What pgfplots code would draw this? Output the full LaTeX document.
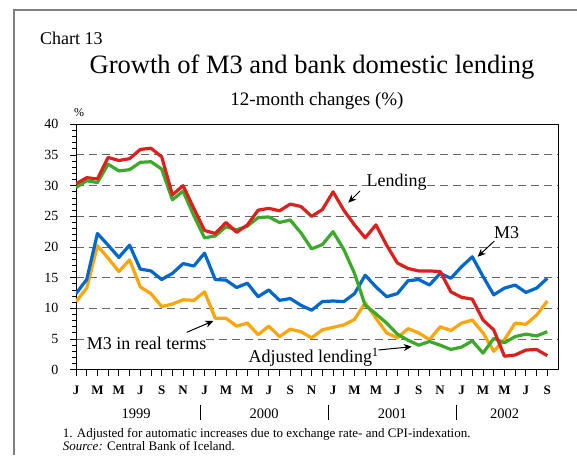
\documentclass[border=0pt]{standalone}
\usepackage{fontspec}
\setmainfont{Liberation Serif}
\usepackage{pgfplots}
\pgfplotsset{compat=1.18}
\usetikzlibrary{arrows.meta}

\definecolor{lendred}{RGB}{221,32,28}
\definecolor{adjgreen}{RGB}{58,170,40}
\definecolor{mblue}{RGB}{0,104,204}
\definecolor{realorange}{RGB}{255,165,10}

% month index 0 = Jan 1999 ... 44 = Sep 2002
\pgfplotstableread{
i  lend  adj   mthree real
0  30.3  29.7  12.4  11.1
1  31.3  30.8  14.7  13.3
2  31.1  30.5  22.2  20.2
3  34.6  33.5  20.3  18.2
4  34.1  32.4  18.3  16.0
5  34.4  32.6  20.3  17.9
6  35.9  33.8  16.4  13.5
7  36.1  33.9  16.1  12.4
8  34.7  32.7  14.7  10.3
9  28.5  27.7  15.7  10.7
10 30.0  29.1  17.3  11.4
11 26.3  25.1  16.9  11.3
12 22.7  21.5  19.0  12.7
13 22.2  21.8  14.7  8.4
14 24.0  23.3  14.6  8.4
15 22.4  22.8  13.4  7.1
16 23.6  23.4  14.1  7.6
17 26.0  24.8  11.9  5.7
18 26.3  24.9  13.0  7.1
19 25.9  24.0  11.3  5.4
20 27.0  24.4  11.6  6.6
21 26.6  22.3  10.5  6.2
22 25.0  19.7  9.7   5.2
23 26.1  20.4  11.1  6.5
24 29.0  22.5  11.2  6.9
25 26.0  19.6  11.1  7.3
26 23.6  15.7  12.4  8.2
27 21.5  10.5  15.4  10.9
28 23.6  9.1   13.5  8.4
29 20.3  7.6   11.9  6.0
30 17.4  5.8   12.4  5.2
31 16.5  4.8   14.5  6.7
32 16.1  4.0   14.7  6.0
33 16.1  4.6   13.8  4.9
34 16.0  4.0   15.7  7.0
35 12.7  3.3   14.9  6.4
36 11.8  3.7   16.8  7.6
37 11.5  4.7   18.4  8.1
38 8.1   2.7   15.2  6.0
39 6.5   5.1   12.2  3.0
40 2.2   4.4   13.3  4.9
41 2.4   5.4   13.8  7.6
42 3.2   5.8   12.6  7.4
43 3.3   5.5   13.3  8.9
44 2.3   6.2   14.9  11.2
}\datatable

\begin{document}
\begin{tikzpicture}
\path[use as bounding box] (0pt,0pt) rectangle (577pt,455pt);

\begin{axis}[
    at={(76pt,85.3pt)}, anchor=south west,
    width=482pt, height=245.4pt, scale only axis,
    xmin=0, xmax=45, ymin=0, ymax=40,
    ytick={0,5,...,40}, minor y tick num=4,
    xtick={0,...,44},
    xticklabels={J,,M,,M,,J,,S,,N,,J,,M,,M,,J,,S,,N,,J,,M,,M,,J,,S,,N,,J,,M,,M,,J,,S},
    tick pos=left, tick align=outside,
    major tick length=6pt, minor tick length=4pt,
    tick style={black, line width=0.8pt},
    axis line style={black, line width=1pt},
    ymajorgrids,
    grid style={dash pattern=on 8pt off 5pt, gray!80!black, line width=1pt},
    yticklabel style={font=\fontsize{14}{14}\selectfont, xshift=-8pt},
    xticklabel style={font=\fontsize{13}{13}\selectfont\bfseries, yshift=-7pt},
    /pgf/number format/assume math mode=true,
    line join=round,
]
\addplot[realorange, line width=3.2pt] table[x=i, y=real] {\datatable};
\addplot[mblue, line width=3.2pt] table[x=i, y=mthree] {\datatable};
\addplot[adjgreen, line width=3.2pt] table[x=i, y=adj] {\datatable};
\addplot[lendred, line width=3.2pt] table[x=i, y=lend] {\datatable};
\end{axis}

\begin{scope}[x=1pt, y=-1pt, shift={(0pt,455pt)}]
  % frame
  \draw[gray, line width=1.2pt] (14,455) -- (14,10) -- (577,10);
  % titles
  \node[anchor=base west, inner sep=0] at (40,44.3) {\fontsize{18}{18}\selectfont Chart 13};
  \node[anchor=base, inner sep=0] at (312,74) {\fontsize{26.5}{26.5}\selectfont Growth of M3 and bank domestic lending};
  \node[anchor=base, inner sep=0] at (317,106) {\fontsize{19}{19}\selectfont 12-month changes (\%)};
  \node[anchor=base west, inner sep=0] at (74,116.7) {\fontsize{12}{12}\selectfont \%};
  % years
  \foreach \xx/\yr in {136/1999, 264/2000, 392.4/2001, 504.7/2002}
    \node[anchor=base, inner sep=0] at (\xx,418) {\fontsize{14.5}{14.5}\selectfont \yr};
  \foreach \xx in {200.5, 328.2, 456.6}
    \draw[black, line width=0.9pt] (\xx,405) -- (\xx,420);
  % footnotes
  \node[anchor=base west, inner sep=0] at (62.7,437.7) {\fontsize{13}{13}\selectfont 1. Adjusted for automatic increases due to exchange rate- and CPI-indexation.};
  \node[anchor=base west, inner sep=0] at (62.7,450.7) {\fontsize{13}{13}\selectfont \textit{Source:} Central Bank of Iceland.};
  % annotations
  \node[anchor=base west, inner sep=0, outer sep=0, fill=white] at (366.7,186.7) {\fontsize{18}{18}\selectfont \strut Lending};
  \draw[-{Stealth[length=8pt,width=7pt]}, line width=1pt] (360,191) -- (348.3,202.7);
  \node[anchor=base west, inner sep=0, fill=white] at (494,238.3) {\fontsize{18}{18}\selectfont M3};
  \draw[-{Stealth[length=8pt,width=7pt]}, line width=1pt] (494.3,241) -- (477.7,256.7);
  \node[anchor=base west, inner sep=0, fill=white] at (86.7,349.3) {\fontsize{18}{18}\selectfont \strut M3 in real terms};
  \draw[-{Stealth[length=8pt,width=7pt]}, line width=1pt] (186.7,332.3) -- (213.3,321);
  \node[anchor=base west, inner sep=0] at (248.3,362.3) {\fontsize{18}{18}\selectfont Adjusted lending\textsuperscript{1}};
  \draw[-{Stealth[length=8pt,width=7pt]}, line width=1pt] (378.3,350) -- (411.7,346.7);
\end{scope}
\end{tikzpicture}
\end{document}
